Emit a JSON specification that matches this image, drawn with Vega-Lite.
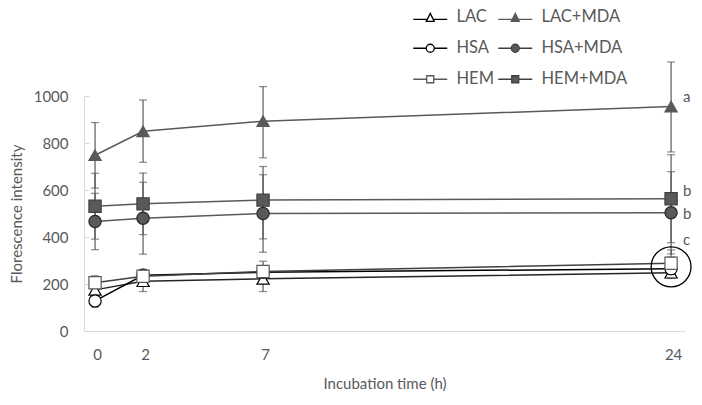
{
  "$schema": "https://vega.github.io/schema/vega-lite/v6.json",
  "width": 601,
  "height": 235,
  "autosize": {"type": "none"},
  "padding": {"left": 84, "top": 96, "right": 17, "bottom": 74},
  "background": "white",
  "config": {
    "font": "Lato",
    "view": {"stroke": null},
    "axis": {"grid": false, "labelColor": "#595959", "titleColor": "#595959", "labelFontSize": 15, "titleFontSize": 15, "titleFontWeight": "normal", "domainColor": "#d9d9d9", "tickColor": "#d9d9d9", "labelFont": "Lato", "titleFont": "Lato"},
    "legend": {
      "orient": "none", "direction": "horizontal", "legendX": 338, "legendY": -87, "columns": 2, "columnPadding": 1, "rowPadding": 14,
      "symbolSize": 100, "symbolStrokeWidth": 1.3, "labelFontSize": 16.5, "labelColor": "#595959", "labelOffset": 18, "padding": 0, "labelFont": "Lato"
    }
  },
  "datasets": {
    "obs": [
      {"series": "LAC", "t": 0, "v": 175, "lo": 155, "hi": 200},
      {"series": "LAC", "t": 2, "v": 212, "lo": 168, "hi": 250},
      {"series": "LAC", "t": 7, "v": 222, "lo": 168, "hi": 262},
      {"series": "LAC", "t": 24, "v": 248, "lo": 224, "hi": 275},
      {"series": "HSA", "t": 0, "v": 128, "lo": 102, "hi": 152},
      {"series": "HSA", "t": 2, "v": 237, "lo": 222, "hi": 252},
      {"series": "HSA", "t": 7, "v": 250, "lo": 230, "hi": 270},
      {"series": "HSA", "t": 24, "v": 265, "lo": 235, "hi": 315},
      {"series": "HEM", "t": 0, "v": 205, "lo": 180, "hi": 235},
      {"series": "HEM", "t": 2, "v": 233, "lo": 215, "hi": 262},
      {"series": "HEM", "t": 7, "v": 253, "lo": 230, "hi": 297},
      {"series": "HEM", "t": 24, "v": 288, "lo": 255, "hi": 345},
      {"series": "LAC+MDA", "t": 0, "v": 748, "lo": 608, "hi": 887},
      {"series": "LAC+MDA", "t": 2, "v": 850, "lo": 718, "hi": 983},
      {"series": "LAC+MDA", "t": 7, "v": 893, "lo": 737, "hi": 1040},
      {"series": "LAC+MDA", "t": 24, "v": 955, "lo": 762, "hi": 1145},
      {"series": "HSA+MDA", "t": 0, "v": 466, "lo": 346, "hi": 586},
      {"series": "HSA+MDA", "t": 2, "v": 480, "lo": 327, "hi": 633},
      {"series": "HSA+MDA", "t": 7, "v": 500, "lo": 335, "hi": 665},
      {"series": "HSA+MDA", "t": 24, "v": 503, "lo": 328, "hi": 678},
      {"series": "HEM+MDA", "t": 0, "v": 531, "lo": 391, "hi": 671},
      {"series": "HEM+MDA", "t": 2, "v": 541, "lo": 410, "hi": 672},
      {"series": "HEM+MDA", "t": 7, "v": 557, "lo": 392, "hi": 700},
      {"series": "HEM+MDA", "t": 24, "v": 563, "lo": 376, "hi": 750}
    ],
    "ann": [
      {"t": 24, "v": 996, "lab": "a"},
      {"t": 24, "v": 597, "lab": "b"},
      {"t": 24, "v": 498, "lab": "b"},
      {"t": 24, "v": 387, "lab": "c"}
    ],
    "ring": [{"t": 24, "v": 273}]
  },
  "resolve": {"scale": {"shape": "independent", "fill": "independent", "stroke": "independent"}},
  "layer": [
    {
      "data": {"name": "obs"},
      "mark": {"type": "rule", "color": "#595959", "strokeWidth": 1.2},
      "encoding": {
        "x": {"field": "t", "type": "quantitative", "scale": {"domain": [-0.46, 24.58], "nice": false, "zero": false},
              "axis": {"values": [0, 2, 7, 24], "ticks": false, "labelPadding": 16, "labelOffset": 2, "title": "Incubation time (h)", "titlePadding": 14}},
        "y": {"field": "lo", "type": "quantitative", "scale": {"domain": [0, 1000], "nice": false},
              "axis": {"values": [0, 200, 400, 600, 800, 1000], "format": "d", "tickSize": -5, "labelPadding": 21, "title": "Florescence intensity", "titlePadding": 9}},
        "y2": {"field": "hi"}
      }
    },
    {
      "data": {"name": "obs"},
      "mark": {"type": "tick", "orient": "horizontal", "color": "#595959", "size": 8, "thickness": 1.2},
      "encoding": {
        "x": {"field": "t", "type": "quantitative"},
        "y": {"field": "lo", "type": "quantitative"}
      }
    },
    {
      "data": {"name": "obs"},
      "mark": {"type": "tick", "orient": "horizontal", "color": "#595959", "size": 8, "thickness": 1.2},
      "encoding": {
        "x": {"field": "t", "type": "quantitative"},
        "y": {"field": "hi", "type": "quantitative"}
      }
    },
    {
      "data": {"name": "obs"},
      "mark": {"type": "line", "strokeWidth": 1.5},
      "encoding": {
        "x": {"field": "t", "type": "quantitative"},
        "y": {"field": "v", "type": "quantitative"},
        "color": {"field": "series", "type": "nominal", "legend": null,
                  "scale": {"domain": ["LAC", "LAC+MDA", "HSA", "HSA+MDA", "HEM", "HEM+MDA"], "range": ["#262626", "#595959", "#000000", "#595959", "#404040", "#595959"]}}
      }
    },
    {
      "data": {"name": "obs"},
      "mark": {"type": "point", "filled": true, "strokeWidth": 1.2, "opacity": 1},
      "encoding": {
        "x": {"field": "t", "type": "quantitative"},
        "y": {"field": "v", "type": "quantitative"},
        "shape": {"field": "series", "type": "nominal", "legend": null,
                  "scale": {"domain": ["LAC", "LAC+MDA", "HSA", "HSA+MDA", "HEM", "HEM+MDA"], "range": ["triangle-up", "triangle-up", "circle", "circle", "square", "square"]}},
        "size": {"field": "series", "type": "nominal", "legend": null,
                  "scale": {"domain": ["LAC", "LAC+MDA", "HSA", "HSA+MDA", "HEM", "HEM+MDA"], "range": [150, 150, 95, 95, 95, 95]}},
        "fill": {"field": "series", "type": "nominal", "legend": null,
                  "scale": {"domain": ["LAC", "LAC+MDA", "HSA", "HSA+MDA", "HEM", "HEM+MDA"], "range": ["#ffffff", "#595959", "#ffffff", "#595959", "#ffffff", "#595959"]}},
        "stroke": {"field": "series", "type": "nominal", "legend": null,
                  "scale": {"domain": ["LAC", "LAC+MDA", "HSA", "HSA+MDA", "HEM", "HEM+MDA"], "range": ["#000000", "#595959", "#000000", "#262626", "#595959", "#404040"]}}
      }
    },
    {
      "data": {"name": "obs"},
      "transform": [{"filter": "false"}],
      "mark": {"type": "point", "filled": true, "opacity": 1},
      "encoding": {
        "shape": {"field": "series", "type": "nominal", "legend": {"title": null},
                  "scale": {"domain": ["LAC", "LAC+MDA", "HSA", "HSA+MDA", "HEM", "HEM+MDA"],
                            "range": [
                              "M-3.4,0.4H-0.6M0.6,0.4H3.4M0,-0.8L0.8,0.8L-0.8,0.8Z",
                              "M-3.4,0.4H-0.6M0.6,0.4H3.4M0,-0.8L0.8,0.8L-0.8,0.8Z",
                              "M-3.4,0H-0.8M0.8,0H3.4M0.8,0A0.8,0.8,0,1,1,-0.8,0A0.8,0.8,0,1,1,0.8,0Z",
                              "M-3.4,0H-0.8M0.8,0H3.4M0.8,0A0.8,0.8,0,1,1,-0.8,0A0.8,0.8,0,1,1,0.8,0Z",
                              "M-3.4,0H-0.7M0.7,0H3.4M-0.7,-0.7H0.7V0.7H-0.7Z",
                              "M-3.4,0H-0.7M0.7,0H3.4M-0.7,-0.7H0.7V0.7H-0.7Z"
                            ]}},
        "fill": {"field": "series", "type": "nominal", "legend": {"title": null},
                  "scale": {"domain": ["LAC", "LAC+MDA", "HSA", "HSA+MDA", "HEM", "HEM+MDA"], "range": ["#ffffff", "#595959", "#ffffff", "#595959", "#ffffff", "#595959"]}},
        "stroke": {"field": "series", "type": "nominal", "legend": {"title": null},
                  "scale": {"domain": ["LAC", "LAC+MDA", "HSA", "HSA+MDA", "HEM", "HEM+MDA"], "range": ["#000000", "#595959", "#000000", "#404040", "#595959", "#404040"]}}
      }
    },
    {
      "data": {"name": "ann"},
      "mark": {"type": "text", "align": "left", "baseline": "middle", "dx": 12, "fontSize": 15, "color": "#595959"},
      "encoding": {
        "x": {"field": "t", "type": "quantitative"},
        "y": {"field": "v", "type": "quantitative"},
        "text": {"field": "lab"}
      }
    },
    {
      "data": {"name": "ring"},
      "mark": {"type": "point", "filled": false, "shape": "circle", "size": 1590, "stroke": "#000000", "strokeWidth": 1.3, "opacity": 1},
      "encoding": {
        "x": {"field": "t", "type": "quantitative"},
        "y": {"field": "v", "type": "quantitative"}
      }
    }
  ]
}
